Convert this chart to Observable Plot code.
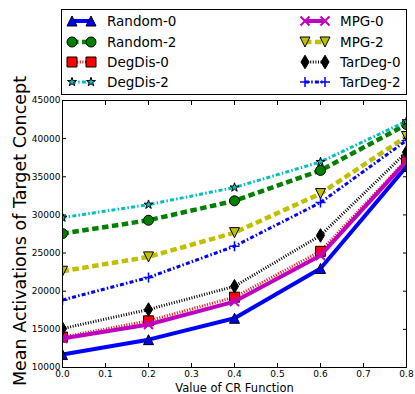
<!DOCTYPE html>
<html>
<head>
<meta charset="utf-8">
<script src="https://cdn.jsdelivr.net/npm/d3@7"></script>
<script src="https://cdn.jsdelivr.net/npm/@observablehq/plot@0.6"></script>
<style>
  html, body { margin: 0; padding: 0; background: #fff; }
  #wrap { position: relative; width: 415px; height: 394px; font-family: "DejaVu Sans", sans-serif; }
  #legend { position: absolute; left: 0; top: 0; }
</style>
</head>
<body>
<div id="wrap"><div id="chart"></div><svg id="legend" width="415" height="100"></svg></div>
<script>
// ---- data ----
const crValues = [0.0, 0.2, 0.4, 0.6, 0.8];
const seriesNames = ["Random-0", "Random-2", "DegDis-0", "DegDis-2", "MPG-0", "MPG-2", "TarDeg-0", "TarDeg-2"];
const random0 = [11700, 13650, 16450, 22980, 36350];
const random2 = [27550, 29300, 31850, 35830, 41850];
const degdis0 = [13980, 16120, 19220, 25230, 37220];
const degdis2 = [29650, 31350, 33600, 36950, 42290];
const mpg0    = [13800, 15640, 18640, 24690, 37050];
const mpg2    = [22620, 24500, 27680, 32800, 40280];
const tardeg0 = [15100, 17600, 20640, 27310, 38230];
const tardeg2 = [18850, 21800, 25900, 31630, 39760];
const xTicks = [0.0, 0.1, 0.2, 0.3, 0.4, 0.5, 0.6, 0.7, 0.8];
const yTicks = [10000, 15000, 20000, 25000, 30000, 35000, 40000, 45000];
const xLabel = "Value of CR Function";
const yLabel = "Mean Activations of Target Concept";

const seriesValues = [random0, random2, degdis0, degdis2, mpg0, mpg2, tardeg0, tardeg2];

// ---- marker shapes (matplotlib-like) ----
const R = s => Math.sqrt(s / Math.PI);
const sym = {
  triUp: {draw(c, s) { const r = R(s); c.moveTo(0, -r); c.lineTo(r, r); c.lineTo(-r, r); c.closePath(); }},
  triDown: {draw(c, s) { const r = R(s); c.moveTo(0, r); c.lineTo(-r, -r); c.lineTo(r, -r); c.closePath(); }},
  circle: {draw(c, s) { const r = R(s); c.moveTo(r, 0); c.arc(0, 0, r, 0, 2 * Math.PI); c.closePath(); }},
  square: {draw(c, s) { const r = R(s); c.rect(-r, -r, 2 * r, 2 * r); }},
  star: {draw(c, s) {
    const r = R(s), ri = r * 0.381966;
    for (let k = 0; k < 10; k++) {
      const a = -Math.PI / 2 + k * Math.PI / 5, rr = k % 2 ? ri : r;
      const px = rr * Math.cos(a), py = rr * Math.sin(a);
      k ? c.lineTo(px, py) : c.moveTo(px, py);
    }
    c.closePath();
  }},
  times: {draw(c, s) { const r = R(s); c.moveTo(-r, -r); c.lineTo(r, r); c.moveTo(-r, r); c.lineTo(r, -r); }},
  thinDiamond: {draw(c, s) { const r = R(s) * 1.414, w = r * 0.6; c.moveTo(0, -r); c.lineTo(w, 0); c.lineTo(0, r); c.lineTo(-w, 0); c.closePath(); }},
  plus: {draw(c, s) { const r = R(s); c.moveTo(-r, 0); c.lineTo(r, 0); c.moveTo(0, -r); c.lineTo(0, r); }}
};

// ---- styles ----
const styles = [
  {color: "#0000ff", width: 4,   dash: null,            symbol: sym.triUp,       r: 5,   fill: "#0000ff", mstroke: "#000", msw: 1},
  {color: "#008000", width: 4.5, dash: "6.5,3.5",       symbol: sym.circle,      r: 5,   fill: "#008000", mstroke: "#000", msw: 1},
  {color: "#ff0000", width: 3,   dash: "1,1.6",         symbol: sym.square,      r: 5,   fill: "#ff0000", mstroke: "#000", msw: 1},
  {color: "#00bfbf", width: 3,   dash: "4,2.2,1.5,2.2", symbol: sym.star,        r: 4.7, fill: "#00bfbf", mstroke: "#000", msw: 1},
  {color: "#bf00bf", width: 4,   dash: null,            symbol: sym.times,       r: 4.5, fill: "none",    mstroke: "#bf00bf", msw: 2},
  {color: "#bfbf00", width: 4.5, dash: "6.5,3.5",       symbol: sym.triDown,     r: 5,   fill: "#bfbf00", mstroke: "#000", msw: 1},
  {color: "#000000", width: 3,   dash: "1,1.6",         symbol: sym.thinDiamond, r: 4.8, fill: "#000000", mstroke: "#000", msw: 1},
  {color: "#0000ff", width: 3,   dash: "4,2.2,1.5,2.2", symbol: sym.plus,        r: 5,   fill: "none",    mstroke: "#0000ff", msw: 1.5}
];

const seriesData = seriesValues.map((vals, i) => vals.map((v, j) => ({x: crValues[j], y: v, name: seriesNames[i]})));

const marks = [];
seriesData.forEach((data, i) => {
  const st = styles[i];
  marks.push(Plot.line(data, {x: "x", y: "y", stroke: st.color, strokeWidth: st.width,
    strokeDasharray: st.dash, strokeLinecap: "butt", strokeLinejoin: "round", clip: true}));
  marks.push(Plot.dot(data, {x: "x", y: "y", symbol: st.symbol, r: st.r, fill: st.fill,
    stroke: st.mstroke, strokeWidth: st.msw, clip: true}));
});

const chart = Plot.plot({
  width: 415,
  height: 394,
  marginLeft: 62,
  marginRight: 9,
  marginTop: 100,
  marginBottom: 27,
  style: {fontFamily: "DejaVu Sans, sans-serif", background: "white", color: "black", overflow: "visible"},
  x: {domain: [0, 0.8], axis: null},
  y: {domain: [10000, 45000], axis: null},
  marks: [
    ...marks,
    Plot.frame({stroke: "black", strokeWidth: 1}),
    // tick labels
    Plot.axisX(xTicks, {anchor: "bottom", tickSize: 0, tickPadding: 3, fontSize: 9, tickFormat: d3.format(".1f"), label: null}),
    Plot.axisY(yTicks, {anchor: "left", tickSize: 0, tickPadding: 2, fontSize: 9, tickFormat: d => String(d), label: null}),
    // inward ticks on all sides
    Plot.axisX(xTicks, {anchor: "bottom", tickSize: -4, fill: "none", label: null}),
    Plot.axisX(xTicks, {anchor: "top", tickSize: -4, fill: "none", label: null}),
    Plot.axisY(yTicks, {anchor: "left", tickSize: -4, fill: "none", label: null}),
    Plot.axisY(yTicks, {anchor: "right", tickSize: -4, fill: "none", label: null}),
    // axis titles
    Plot.text([xLabel], {frameAnchor: "bottom", lineAnchor: "middle", dy: 21, fontSize: 11.5, fill: "black", text: d => d}),
    Plot.text([yLabel], {frameAnchor: "left", textAnchor: "middle", lineAnchor: "middle", dx: -42, dy: -3, rotate: -90, fontSize: 17.5, fill: "black", text: d => d})
  ]
});
document.getElementById("chart").appendChild(chart);

// ---- legend ----
const lg = d3.select("#legend");
lg.append("rect").attr("x", 61.5).attr("y", 9.5).attr("width", 345).attr("height", 85)
  .attr("fill", "white").attr("stroke", "black").attr("stroke-width", 1);
const rowsY = [21, 42, 62, 82];
const cols = [{m1: 72, m2: 91, tx: 107}, {m1: 305, m2: 325, tx: 340}];
seriesNames.forEach((name, i) => {
  const st = styles[i];
  const col = cols[Math.floor(i / 4)], y = rowsY[i % 4];
  lg.append("line").attr("x1", col.m1).attr("x2", col.m2).attr("y1", y).attr("y2", y)
    .attr("stroke", st.color).attr("stroke-width", st.width)
    .attr("stroke-dasharray", st.dash).attr("stroke-linecap", "butt");
  [col.m1, col.m2].forEach(mx => {
    lg.append("path").attr("d", d3.symbol(st.symbol, st.r * st.r * Math.PI)())
      .attr("transform", `translate(${mx},${y})`)
      .attr("fill", st.fill).attr("stroke", st.mstroke).attr("stroke-width", st.msw);
  });
  lg.append("text").attr("x", col.tx).attr("y", y).attr("dy", "0.35em")
    .attr("font-family", "DejaVu Sans, sans-serif").attr("font-size", 13.5).attr("fill", "black")
    .text(name);
});
</script>
</body>
</html>
